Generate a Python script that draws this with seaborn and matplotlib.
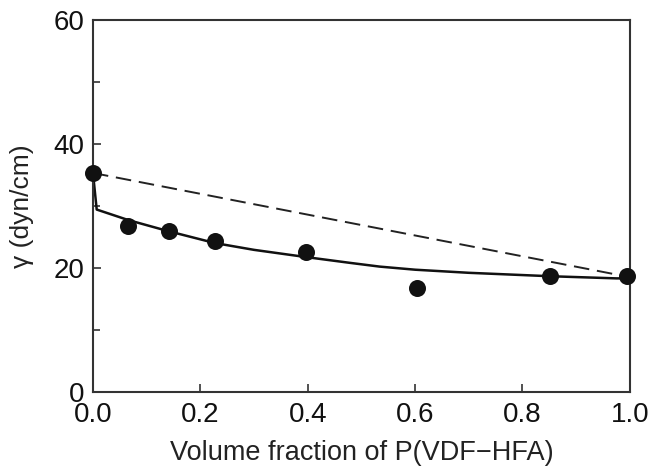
import matplotlib
matplotlib.use("Agg")
import matplotlib.pyplot as plt
import seaborn as sns
import pandas as pd
from matplotlib.ticker import MultipleLocator

sns.set_style("white")
plt.rcParams['font.family'] = ['Liberation Sans', 'DejaVu Sans']

# measured data points
x_points = [0.0, 0.066, 0.141, 0.227, 0.396, 0.603, 0.851, 0.994]
y_points = [35.3, 26.8, 26.0, 24.4, 22.6, 16.8, 18.7, 18.7]

# model curve (solid)
x_model = [0.0, 0.007, 0.066, 0.141, 0.227, 0.3, 0.4, 0.479, 0.534, 0.6, 0.7, 0.851, 0.975, 1.0]
y_model = [35.3, 29.4, 27.7, 25.9, 24.0, 22.9, 21.7, 20.8, 20.2, 19.7, 19.2, 18.65, 18.3, 18.3]

# additivity line (dashed)
x_linear = [0.0, 1.0]
y_linear = [35.3, 18.5]

fig = plt.figure(figsize=(6.5, 4.71), dpi=100)
ax = fig.add_axes([0.143, 0.168, 0.826, 0.79])

sns.lineplot(x=x_linear, y=y_linear, ax=ax, color='#222222', lw=1.4,
             linestyle=(0, (8, 4)), sort=False)
sns.lineplot(x=x_model, y=y_model, ax=ax, color='#111111', lw=1.8, sort=False)
sns.scatterplot(x=x_points, y=y_points, ax=ax, color='#111111', s=150,
                edgecolor='#111111', linewidth=0, zorder=5, clip_on=False)

ax.set_xlim(0, 1.0)
ax.set_ylim(0, 60)
ax.yaxis.set_minor_locator(MultipleLocator(10))
ax.set_xticks([0.0, 0.2, 0.4, 0.6, 0.8, 1.0])
ax.set_xticklabels(['0.0', '0.2', '0.4', '0.6', '0.8', '1.0'])
ax.set_yticks([0, 20, 40, 60])
ax.set_yticklabels(['0', '20', '40', '60'])
ax.tick_params(axis='both', which='both', direction='in', color='#333333',
               labelsize=20, labelcolor='#111111', bottom=True, left=True,
               top=False, right=False)
ax.tick_params(axis='both', which='major', length=6, width=1.2)
ax.tick_params(axis='y', which='minor', length=5, width=1.2)
ax.tick_params(axis='y', which='major', pad=6)
ax.tick_params(axis='x', which='major', pad=7)
for s in ax.spines.values():
    s.set_color('#333333')
    s.set_linewidth(1.5)

ax.set_xlabel('Volume fraction of P(VDF\u2212HFA)', fontsize=19.5, color='#222222', labelpad=9)
ax.set_ylabel('\u03b3 (dyn/cm)', fontsize=19, color='#222222', labelpad=14)

fig.savefig('out.png', dpi=100)
